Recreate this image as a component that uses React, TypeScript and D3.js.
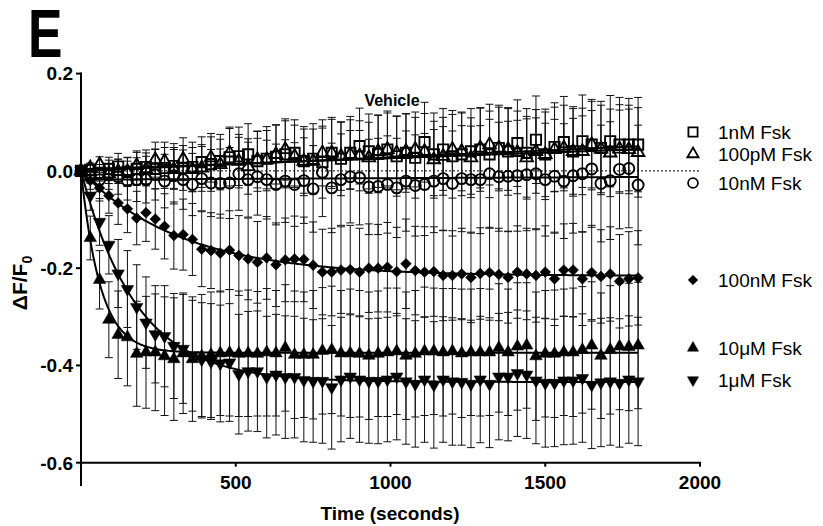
import React from 'react';
import * as d3 from 'd3';

const times = [0, 30, 60, 90, 120, 150, 180, 210, 240, 270, 300, 330, 360, 390, 420, 450, 480, 510, 540, 570, 600, 630, 660, 690, 720, 750, 780, 810, 840, 870, 900, 930, 960, 990, 1020, 1050, 1080, 1110, 1140, 1170, 1200, 1230, 1260, 1290, 1320, 1350, 1380, 1410, 1440, 1470, 1500, 1530, 1560, 1590, 1620, 1650, 1680, 1710, 1740, 1770, 1800];

const legendLabels = ['1nM Fsk', '100pM Fsk', '10nM Fsk', '100nM Fsk', '10μM Fsk', '1μM Fsk'];

const v1nM = [0, 0.002, -0.004, 0.004, 0.009, -0.002, 0.004, 0.008, 0.004, 0.006, 0.010, 0.006, 0.008, 0.018, 0.014, 0.020, 0.028, 0.030, 0.034, 0.020, 0.025, 0.029, 0.034, 0.037, 0.020, 0.025, 0.018, 0.037, 0.025, 0.037, 0.051, 0.040, 0.035, 0.044, 0.030, 0.037, 0.027, 0.059, 0.034, 0.044, 0.030, 0.034, 0.040, 0.044, 0.034, 0.047, 0.040, 0.057, 0.037, 0.064, 0.034, 0.049, 0.059, 0.040, 0.061, 0.054, 0.047, 0.061, 0.054, 0.054, 0.054];
const v100pM = [0, 0.006, 0.013, -0.006, -0.001, -0.001, 0.011, 0.003, 0.023, 0.020, 0.003, 0.024, 0.003, 0.006, 0.027, 0.013, 0.037, 0.020, 0.009, 0.023, 0.023, 0.034, 0.044, 0.030, 0.020, 0.020, 0.037, 0.037, 0.030, 0.034, 0.031, 0.027, 0.040, 0.044, 0.037, 0.040, 0.044, 0.040, 0.023, 0.030, 0.044, 0.040, 0.027, 0.047, 0.054, 0.047, 0.044, 0.038, 0.027, 0.040, 0.034, 0.044, 0.047, 0.040, 0.040, 0.054, 0.045, 0.037, 0.045, 0.044, 0.038];
const v10nM = [0, -0.010, -0.018, -0.008, -0.012, -0.020, -0.018, -0.018, -0.008, -0.021, -0.010, -0.018, -0.028, -0.016, -0.025, -0.026, -0.025, -0.006, -0.018, -0.012, -0.018, -0.028, -0.021, -0.028, -0.020, -0.037, -0.003, -0.035, -0.018, -0.012, -0.014, -0.033, -0.032, -0.028, -0.035, -0.021, -0.030, -0.028, -0.021, -0.016, -0.026, -0.016, -0.018, -0.018, -0.006, -0.012, -0.011, -0.010, -0.008, -0.006, -0.018, -0.011, -0.021, -0.010, -0.006, 0.004, -0.026, -0.020, 0.003, 0.005, -0.029];
const v100nM = [0, -0.020, -0.035, -0.051, -0.066, -0.078, -0.097, -0.086, -0.099, -0.114, -0.133, -0.131, -0.141, -0.161, -0.164, -0.169, -0.163, -0.174, -0.181, -0.188, -0.179, -0.193, -0.183, -0.181, -0.182, -0.194, -0.208, -0.208, -0.204, -0.203, -0.208, -0.200, -0.200, -0.198, -0.207, -0.191, -0.205, -0.208, -0.207, -0.215, -0.215, -0.212, -0.219, -0.211, -0.209, -0.213, -0.219, -0.208, -0.212, -0.215, -0.208, -0.222, -0.204, -0.204, -0.222, -0.209, -0.217, -0.212, -0.227, -0.222, -0.220];
const v10uM = [0, -0.138, -0.224, -0.306, -0.337, -0.342, -0.376, -0.373, -0.373, -0.381, -0.387, -0.375, -0.387, -0.381, -0.378, -0.375, -0.374, -0.376, -0.375, -0.376, -0.373, -0.375, -0.364, -0.378, -0.378, -0.378, -0.370, -0.368, -0.375, -0.375, -0.376, -0.380, -0.376, -0.373, -0.371, -0.380, -0.376, -0.371, -0.371, -0.373, -0.371, -0.375, -0.373, -0.373, -0.373, -0.364, -0.373, -0.361, -0.359, -0.381, -0.376, -0.376, -0.373, -0.373, -0.368, -0.359, -0.380, -0.368, -0.361, -0.362, -0.359];
const v1uM = [0, -0.051, -0.105, -0.152, -0.211, -0.243, -0.280, -0.312, -0.336, -0.340, -0.360, -0.366, -0.380, -0.388, -0.392, -0.396, -0.394, -0.418, -0.412, -0.412, -0.424, -0.419, -0.424, -0.424, -0.430, -0.432, -0.432, -0.445, -0.429, -0.423, -0.429, -0.432, -0.432, -0.429, -0.423, -0.433, -0.438, -0.429, -0.440, -0.429, -0.433, -0.434, -0.438, -0.429, -0.438, -0.423, -0.423, -0.416, -0.419, -0.431, -0.436, -0.436, -0.431, -0.431, -0.426, -0.440, -0.435, -0.433, -0.436, -0.429, -0.433];

const e1nM = [0, 0.012, 0.017, 0.024, 0.027, 0.03, 0.034, 0.035, 0.041, 0.042, 0.046, 0.046, 0.051, 0.052, 0.056, 0.055, 0.059, 0.06, 0.063, 0.062, 0.066, 0.065, 0.069, 0.068, 0.071, 0.072, 0.074, 0.073, 0.076, 0.075, 0.078, 0.077, 0.08, 0.079, 0.082, 0.081, 0.083, 0.082, 0.085, 0.084, 0.086, 0.085, 0.088, 0.086, 0.089, 0.088, 0.09, 0.089, 0.091, 0.09, 0.093, 0.091, 0.094, 0.092, 0.095, 0.093, 0.096, 0.094, 0.097, 0.095, 0.097];
const e100pM = [0, 0.01, 0.016, 0.02, 0.025, 0.028, 0.03, 0.034, 0.036, 0.039, 0.041, 0.044, 0.045, 0.048, 0.05, 0.052, 0.053, 0.055, 0.057, 0.058, 0.06, 0.061, 0.063, 0.064, 0.066, 0.066, 0.068, 0.069, 0.07, 0.071, 0.072, 0.073, 0.074, 0.075, 0.076, 0.077, 0.077, 0.078, 0.079, 0.08, 0.08, 0.081, 0.082, 0.082, 0.083, 0.084, 0.084, 0.085, 0.085, 0.086, 0.087, 0.087, 0.088, 0.088, 0.089, 0.089, 0.09, 0.09, 0.091, 0.091, 0.092];
const e10nM = [0, 0.015, 0.024, 0.03, 0.036, 0.04, 0.045, 0.048, 0.052, 0.055, 0.058, 0.061, 0.064, 0.066, 0.069, 0.071, 0.073, 0.075, 0.077, 0.079, 0.081, 0.083, 0.085, 0.086, 0.088, 0.089, 0.091, 0.092, 0.094, 0.095, 0.097, 0.098, 0.099, 0.1, 0.102, 0.103, 0.104, 0.105, 0.106, 0.107, 0.108, 0.109, 0.11, 0.111, 0.112, 0.112, 0.113, 0.114, 0.115, 0.115, 0.116, 0.117, 0.118, 0.118, 0.119, 0.12, 0.12, 0.121, 0.122, 0.122, 0.123];
const e100nM = [0, 0.018, 0.027, 0.036, 0.044, 0.049, 0.055, 0.059, 0.062, 0.067, 0.069, 0.073, 0.074, 0.077, 0.078, 0.08, 0.081, 0.082, 0.084, 0.084, 0.085, 0.086, 0.086, 0.088, 0.087, 0.089, 0.088, 0.09, 0.089, 0.091, 0.09, 0.091, 0.09, 0.092, 0.091, 0.092, 0.091, 0.093, 0.092, 0.093, 0.092, 0.094, 0.093, 0.094, 0.093, 0.095, 0.094, 0.095, 0.094, 0.096, 0.095, 0.096, 0.095, 0.096, 0.096, 0.097, 0.096, 0.097, 0.096, 0.097, 0.097];
const e10uM = [0, 0.045, 0.06, 0.078, 0.09, 0.1, 0.108, 0.115, 0.12, 0.122, 0.126, 0.124, 0.128, 0.127, 0.129, 0.128, 0.13, 0.129, 0.13, 0.128, 0.131, 0.129, 0.13, 0.131, 0.129, 0.132, 0.13, 0.131, 0.129, 0.132, 0.13, 0.131, 0.129, 0.132, 0.13, 0.131, 0.13, 0.132, 0.13, 0.131, 0.129, 0.132, 0.13, 0.131, 0.13, 0.132, 0.13, 0.131, 0.129, 0.132, 0.13, 0.131, 0.13, 0.132, 0.13, 0.131, 0.129, 0.132, 0.13, 0.131, 0.13];
const e1uM = [0, 0.03, 0.048, 0.06, 0.07, 0.079, 0.087, 0.094, 0.1, 0.104, 0.108, 0.112, 0.114, 0.117, 0.119, 0.12, 0.121, 0.123, 0.123, 0.124, 0.125, 0.124, 0.126, 0.125, 0.127, 0.126, 0.128, 0.127, 0.128, 0.127, 0.129, 0.128, 0.129, 0.128, 0.13, 0.129, 0.13, 0.129, 0.13, 0.129, 0.131, 0.13, 0.131, 0.13, 0.131, 0.13, 0.132, 0.13, 0.131, 0.13, 0.132, 0.131, 0.132, 0.131, 0.132, 0.131, 0.132, 0.131, 0.132, 0.131, 0.132];

// curve fits: 'lin' -> a + b*t ; 'exp' -> a * (1 - exp(-b*t))
const fitTypes = ['lin', 'lin', 'lin', 'exp', 'exp', 'exp'];
const fitA = [0.0, 0.003, -0.018, -0.216, -0.374, -0.434];
const fitB = [0.000028, 0.000023, 0.000003, 0.0031, 0.016, 0.0056];

const yTicks = [0.2, 0.0, -0.2, -0.4, -0.6];
const yTickLabels = ['0.2', '0.0', '-0.2', '-0.4', '-0.6'];
const xTicks = [500, 1000, 1500, 2000];
const xTickLabels = ['500', '1000', '1500', '2000'];

const shapes = ['square', 'triUp', 'circle', 'diamond', 'triUp', 'triDown'];
const filled = [false, false, false, true, true, true];
const values = [v1nM, v100pM, v10nM, v100nM, v10uM, v1uM];
const errors = [e1nM, e100pM, e10nM, e100nM, e10uM, e1uM];
const legendY = [132, 154, 183, 280, 348, 380];

const FONT = '"Liberation Sans", Arial, Helvetica, sans-serif';

function symbolPath(shape: string, scale = 1): { d: string; rot: number } {
  switch (shape) {
    case 'square':
      return { d: d3.symbol(d3.symbolSquare, 105 * scale)() as string, rot: 0 };
    case 'circle':
      return { d: d3.symbol(d3.symbolCircle, 95 * scale)() as string, rot: 0 };
    case 'diamond':
      return { d: d3.symbol(d3.symbolSquare, 58 * scale)() as string, rot: 45 };
    case 'triUp':
      return { d: d3.symbol(d3.symbolTriangle, 68 * scale)() as string, rot: 0 };
    case 'triDown':
      return { d: d3.symbol(d3.symbolTriangle, 68 * scale)() as string, rot: 180 };
  }
  return { d: '', rot: 0 };
}

export default function App() {
  const W = 823;
  const H = 526;
  const x = d3.scaleLinear().domain([0, 2000]).range([81, 700]);
  const y = d3.scaleLinear().domain([-0.6, 0.2]).range([462.7, 73.6]);

  const series = values.map((vals, i) => ({
    label: legendLabels[i],
    pts: times.map((t, j) => ({ t, v: vals[j], e: errors[i][j] })),
    shape: shapes[i],
    filled: filled[i],
    fitType: fitTypes[i],
    a: fitA[i],
    b: fitB[i],
  }));

  const line = d3
    .line<{ t: number; v: number }>()
    .x((d) => x(d.t))
    .y((d) => y(d.v));

  const fitSamples = d3.range(0, 1801, 5);

  return (
    <div style={{ position: 'absolute', left: 0, top: 0 }}>
      <svg width={W} height={H} style={{ display: 'block', background: '#fff' }} fontFamily={FONT}>
        <rect x={0} y={0} width={W} height={H} fill="#fff" />
        {/* Panel letter */}
        <text transform="translate(28,57) scale(0.76,1)" fontSize={68} fontWeight="bold" fill="#000">E</text>

        {/* title */}
        <text x={392} y={106} textAnchor="middle" fontSize={16} fontWeight="bold">Vehicle</text>

        {/* zero dotted line */}
        <line x1={x(0)} x2={x(2000)} y1={y(0)} y2={y(0)} stroke="#000" strokeWidth={1} strokeDasharray="2,2" />

        {/* error bars */}
        {series.map((s, i) => (
          <g key={'err' + i} stroke="#111" strokeWidth={1}>
            {s.pts.filter((p) => p.e > 0).map((p, j) => {
              const cx = x(p.t);
              const y1 = y(p.v + p.e);
              const y2 = y(p.v - p.e);
              return (
                <g key={j}>
                  <line x1={cx} x2={cx} y1={y1} y2={y2} />
                  <line x1={cx - 4} x2={cx + 4} y1={y1} y2={y1} />
                  <line x1={cx - 4} x2={cx + 4} y1={y2} y2={y2} />
                </g>
              );
            })}
          </g>
        ))}

        {/* fit curves */}
        {series.map((s, i) => {
          const pts = fitSamples.map((t) => ({
            t,
            v: s.fitType === 'lin' ? s.a + s.b * t : s.a * (1 - Math.exp(-s.b * t)),
          }));
          return <path key={'fit' + i} d={line(pts) as string} fill="none" stroke="#000" strokeWidth={2} />;
        })}

        {/* markers */}
        {series.map((s, i) => {
          const sp = symbolPath(s.shape);
          return (
            <g key={'mk' + i}>
              {s.pts.map((p, j) => (
                <path
                  key={j}
                  d={sp.d}
                  transform={`translate(${x(p.t)},${y(p.v)}) rotate(${sp.rot})`}
                  fill={s.filled ? '#000' : 'none'}
                  stroke="#000"
                  strokeWidth={s.filled ? 0.5 : 1.9}
                />
              ))}
            </g>
          );
        })}

        {/* y axis */}
        <line x1={81} x2={81} y1={y(0.2) - 1} y2={486} stroke="#000" strokeWidth={2} />
        {yTicks.map((t, i) => (
          <g key={'yt' + i}>
            <line x1={76} x2={81} y1={y(t)} y2={y(t)} stroke="#000" strokeWidth={2} />
            <text x={73} y={y(t) + 6.8} textAnchor="end" fontSize={19} fontWeight="bold">{yTickLabels[i]}</text>
          </g>
        ))}

        {/* x axis */}
        <line x1={80} x2={x(2000) + 1} y1={y(-0.6)} y2={y(-0.6)} stroke="#000" strokeWidth={2} />
        {xTicks.map((t, i) => (
          <g key={'xt' + i}>
            <line x1={x(t)} x2={x(t)} y1={y(-0.6)} y2={y(-0.6) + 4} stroke="#000" strokeWidth={2} />
            <text x={x(t)} y={488.5} textAnchor="middle" fontSize={19} fontWeight="bold">{xTickLabels[i]}</text>
          </g>
        ))}

        {/* axis titles */}
        <text x={390} y={520} textAnchor="middle" fontSize={19} fontWeight="bold">Time (seconds)</text>
        <text transform="translate(27,283) rotate(-90)" textAnchor="middle" fontSize={21} fontWeight="bold">
          ΔF/F<tspan fontSize={14} dy={5}>0</tspan>
        </text>

        {/* legend */}
        {series.map((s, i) => {
          const sp = symbolPath(s.shape, 0.8);
          return (
            <g key={'lg' + i}>
              <path
                d={sp.d}
                transform={`translate(693,${legendY[i]}) rotate(${sp.rot})`}
                fill={s.filled ? '#000' : 'none'}
                stroke="#000"
                strokeWidth={s.filled ? 0.5 : 1.8}
              />
              <text x={718} y={legendY[i] + 6.8} fontSize={19} fill="#000">{s.label}</text>
            </g>
          );
        })}
      </svg>
    </div>
  );
}
